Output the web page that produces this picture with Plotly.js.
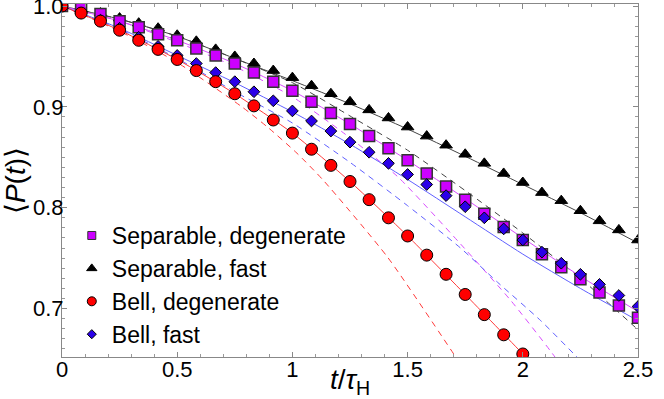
<!DOCTYPE html>
<html>
<head>
<meta charset="utf-8">
<script src="https://cdn.plot.ly/plotly-3.0.1.min.js"></script>
<style>html,body{margin:0;padding:0;background:#fff;}#plot{width:664px;height:399px;}</style>
</head>
<body>
<div id="plot"></div>
<script>
// marker times (t / tau_H)
const tMarks = [0, 0.083, 0.167, 0.25, 0.333, 0.417, 0.5, 0.583, 0.667, 0.75, 0.833, 0.917, 1.0, 1.083, 1.167, 1.25, 1.333, 1.417, 1.5, 1.583, 1.667, 1.75, 1.833, 1.917, 2.0, 2.083, 2.167, 2.25, 2.333, 2.417, 2.5];
// Separable, degenerate (squares)
const sepDeg = [1.0, 0.998, 0.992, 0.985, 0.979, 0.972, 0.966, 0.958, 0.951, 0.943, 0.934, 0.925, 0.916, 0.905, 0.894, 0.883, 0.871, 0.859, 0.847, 0.834, 0.821, 0.808, 0.794, 0.781, 0.768, 0.754, 0.741, 0.729, 0.716, 0.703, 0.691];
// Separable, fast (triangles)
const sepFast = [1.0, 0.997, 0.993, 0.988, 0.983, 0.978, 0.971, 0.965, 0.957, 0.950, 0.943, 0.936, 0.929, 0.921, 0.913, 0.905, 0.897, 0.889, 0.880, 0.871, 0.862, 0.853, 0.844, 0.834, 0.825, 0.815, 0.807, 0.797, 0.787, 0.778, 0.768];
// Bell, degenerate (circles)
const bellDeg = [1.0, 0.993, 0.985, 0.976, 0.966, 0.957, 0.947, 0.936, 0.925, 0.913, 0.901, 0.887, 0.874, 0.858, 0.842, 0.826, 0.808, 0.790, 0.772, 0.753, 0.734, 0.714, 0.694, 0.674, 0.655];
// Bell, fast (diamonds)
const bellFast = [1.0, 0.993, 0.986, 0.978, 0.969, 0.960, 0.951, 0.943, 0.934, 0.925, 0.915, 0.906, 0.896, 0.886, 0.876, 0.865, 0.855, 0.844, 0.833, 0.823, 0.812, 0.801, 0.790, 0.779, 0.768, 0.756, 0.745, 0.734, 0.724, 0.713, 0.702];

// solid curves
const tSolid = [0, 0.25, 0.5, 0.75, 1.0, 1.25, 1.5, 1.75, 2.0, 2.25, 2.5];
const sepFastSolid = [1.0, 0.987, 0.970, 0.948, 0.926, 0.903, 0.878, 0.851, 0.823, 0.795, 0.765];
const sepDegSolid  = [1.0, 0.985, 0.966, 0.943, 0.916, 0.883, 0.847, 0.809, 0.770, 0.732, 0.697];
const bellFastSolid = [1.0, 0.978, 0.951, 0.924, 0.895, 0.863, 0.828, 0.791, 0.754, 0.720, 0.688];
const tBellDegSolid = [0, 0.25, 0.5, 0.75, 1.0, 1.25, 1.5, 1.75, 2.0, 2.083];
const bellDegSolid = [1.0, 0.976, 0.947, 0.913, 0.874, 0.826, 0.772, 0.714, 0.655, 0.635];

// dashed curves
const tSepFastDash = [0, 0.25, 0.5, 0.75, 1.0, 1.25, 1.5, 1.75, 2.0, 2.25, 2.5];
const sepFastDash  = [1.0, 0.987, 0.970, 0.948, 0.924, 0.891, 0.857, 0.817, 0.775, 0.730, 0.679];
const tSepDegDash = [0, 0.25, 0.5, 0.75, 1.0, 1.223, 1.456, 1.73, 1.948, 2.12, 2.2];
const sepDegDash  = [1.0, 0.985, 0.964, 0.940, 0.910, 0.874, 0.831, 0.764, 0.708, 0.658, 0.633];
const tBellFastDash = [0, 0.25, 0.5, 0.75, 1.0, 1.25, 1.5, 1.73, 1.891, 2.078, 2.222, 2.3];
const bellFastDash  = [1.0, 0.977, 0.948, 0.915, 0.884, 0.845, 0.802, 0.760, 0.726, 0.688, 0.655, 0.637];
const tBellDegDash = [0, 0.25, 0.5, 0.781, 0.897, 1.02, 1.135, 1.413, 1.709, 1.75];
const bellDegDash  = [1.0, 0.975, 0.944, 0.900, 0.879, 0.854, 0.827, 0.751, 0.652, 0.638];

const legendNames = ['Separable, degenerate', 'Separable, fast', 'Bell, degenerate', 'Bell, fast'];
const xTickVals = [0, 0.5, 1, 1.5, 2, 2.5];
const xTickText = ['0', '0.5', '1', '1.5', '2', '2.5'];
const yTickVals = [0.7, 0.8, 0.9, 1.0];
const yTickText = ['0.7', '0.8', '0.9', '1.0'];

const C = {
  mag: '#cc00ff', magLine: '#d94cff',
  blk: '#000000', blkLine: '#444444',
  red: '#ff0000', redLine: '#ff3a3a',
  blu: '#2a00e8', bluLine: '#6060ff'
};

function line(x, y, color, dash) {
  return {x: x, y: y, type: 'scatter', mode: 'lines', showlegend: false, hoverinfo: 'skip',
    line: {color: color, width: 1, dash: dash ? '6px,5px' : 'solid', shape: 'spline', smoothing: 0.6}};
}
function marks(x, y, sym, size, fill, lc, lw, name) {
  return {x: x, y: y, type: 'scatter', mode: 'markers', name: name, showlegend: false,
    marker: {symbol: sym, size: size, color: fill, line: {color: lc, width: lw}}};
}
function legendItem(sym, size, fill, lc, lw, name) {
  return {x: [null], y: [null], type: 'scatter', mode: 'markers', name: name, showlegend: true,
    marker: {symbol: sym, size: size, color: fill, line: {color: lc, width: lw}}};
}

const data = [
  line(tSepFastDash, sepFastDash, C.blkLine, true),
  line(tSepDegDash, sepDegDash, C.magLine, true),
  line(tBellFastDash, bellFastDash, C.bluLine, true),
  line(tBellDegDash, bellDegDash, C.redLine, true),
  line(tSolid, sepFastSolid, C.blkLine, false),
  line(tSolid, sepDegSolid, C.magLine, false),
  line(tSolid, bellFastSolid, C.bluLine, false),
  line(tBellDegSolid, bellDegSolid, C.redLine, false),
  marks(tMarks, sepFast, 'triangle-up', 11, C.blk, '#000', 1, legendNames[1]),
  marks(tMarks, sepDeg, 'square', 11, C.mag, '#333', 1.5, legendNames[0]),
  marks(tMarks, bellFast, 'diamond', 9, C.blu, '#000', 1, legendNames[3]),
  marks(tMarks.slice(0, bellDeg.length), bellDeg, 'circle', 12, C.red, '#000', 1, legendNames[2]),
  legendItem('square', 8, C.mag, '#333', 1, legendNames[0]),
  legendItem('triangle-up', 9, C.blk, '#000', 1, legendNames[1]),
  legendItem('circle', 9, C.red, '#000', 1, legendNames[2]),
  legendItem('diamond', 7, C.blu, '#000', 1, legendNames[3])
];

const fam = 'Liberation Sans';
const layout = {
  width: 664, height: 399,
  margin: {l: 62, r: 26, t: 4, b: 42},
  paper_bgcolor: '#fff', plot_bgcolor: '#fff',
  font: {family: fam, size: 21, color: '#000'},
  showlegend: true,
  legend: {x: 0.017, y: 0.405, xanchor: 'left', yanchor: 'top', bgcolor: 'rgba(0,0,0,0)',
    font: {family: fam, size: 23, color: '#000'}, itemsizing: 'trace', tracegroupgap: 0},
  xaxis: {
    range: [0, 2.5], showgrid: false, zeroline: false,
    showline: true, linecolor: '#888', linewidth: 1, mirror: 'allticks',
    ticks: 'inside', ticklen: 5, tickcolor: '#888', tickwidth: 1,
    tickvals: xTickVals, ticktext: xTickText, ticklabelstandoff: -7, ticklabeloverflow: 'allow',
    minor: {dtick: 0.1, ticklen: 3, ticks: 'inside', tickcolor: '#999', showgrid: false},
    tickfont: {family: fam, size: 22},
    title: {text: '<i>t</i>/<i>τ</i><sub>H</sub>', font: {family: fam, size: 28}, standoff: 0}
  },
  yaxis: {
    range: [0.652, 1.002], showgrid: false, zeroline: false,
    showline: true, linecolor: '#888', linewidth: 1, mirror: 'allticks',
    ticks: 'inside', ticklen: 5, tickcolor: '#888', tickwidth: 1,
    tickvals: yTickVals, ticktext: yTickText, ticklabelstandoff: -7, ticklabeloverflow: 'allow',
    minor: {dtick: 0.01, ticklen: 3, ticks: 'inside', tickcolor: '#999', showgrid: false},
    tickfont: {family: fam, size: 22},
    title: {text: '⟨<i>P</i>(<i>t</i>)⟩', font: {family: fam, size: 28}, standoff: 6}
  }
};

Plotly.newPlot('plot', data, layout, {staticPlot: true, displayModeBar: false});
</script>
</body>
</html>
